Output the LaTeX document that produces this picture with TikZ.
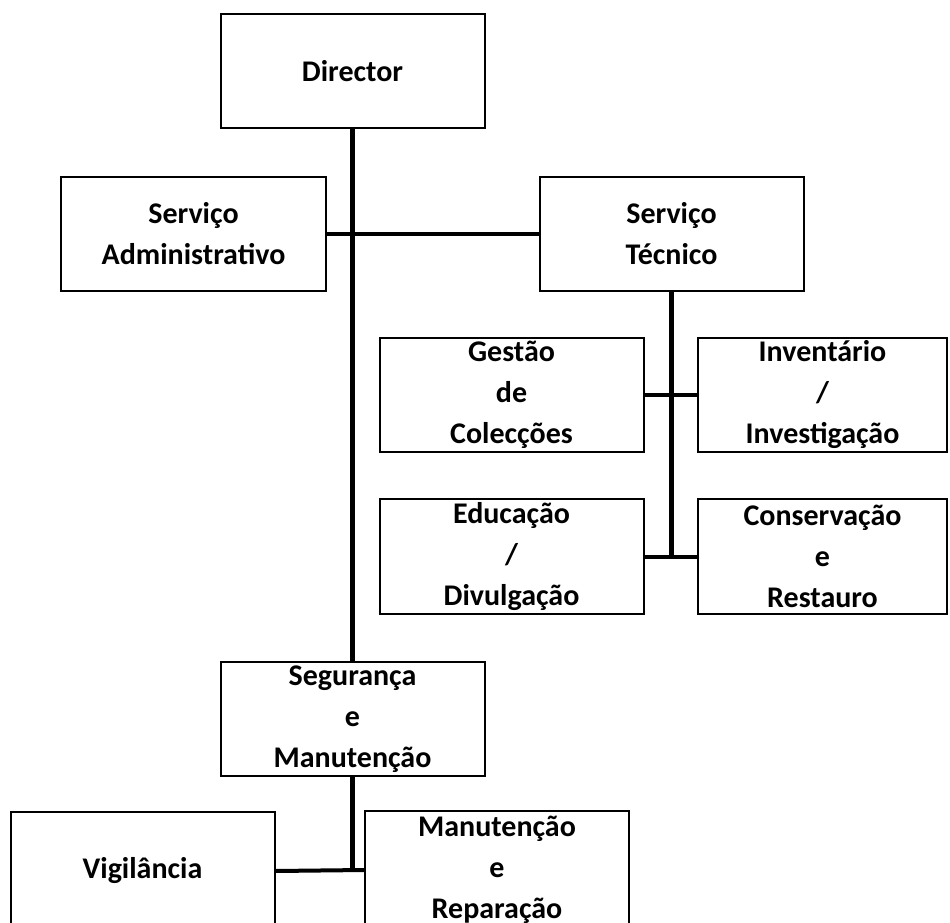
\documentclass[tikz,border=0pt]{standalone}
\usepackage{fontspec}
\setmainfont{Carlito}
\usepackage{tikz}

\begin{document}
\begin{tikzpicture}[x = 1pt, y = -1pt,
  unit/.style = {draw, line width = 2pt, align = center, inner sep = 0pt,
    minimum width = 264pt, minimum height = 114pt,
    font = \bfseries\fontsize{30}{41}\selectfont},
  trunk/.style = {line width = 5.5pt},
  link/.style = {line width = 4pt}]
\useasboundingbox (0,0) rectangle (950,923);
\clip (0,0) rectangle (950,923);
\node [unit] (dir) at (352.5,71) {Director};
\node [unit, minimum width = 265pt] (adm) at (193.5,234) {Serviço\\Administrativo};
\node [unit] (tec) at (671.5,234) {Serviço\\Técnico};
\node [unit] (ges) at (511.5,395) {Gestão\\de\\Colecções};
\node [unit, minimum width = 249pt] (inv) at (822.5,395) {Inventário\\/\\Investigação};
\node [unit, minimum height = 115pt] (edu) at (511.5,556.5) {Educação\\/\\Divulgação};
\node [unit, minimum width = 249pt, minimum height = 115pt] (con) at (822.5,556.5) {Conservação\\e\\Restauro};
\node [unit] (seg) at (352.5,719) {Segurança\\e\\Manutenção};
\node [unit, minimum height = 118pt] (vig) at (142.5,871) {Vigilância};
\node [unit, minimum height = 118pt] (man) at (497,870) {Manutenção\\e\\Reparação};
\draw [trunk] (dir.south) -- (seg.north);
\draw [link] (adm.east) -- (tec.west);
\draw [trunk] (tec.south) -- (tec.south |- edu.east);
\draw [link] (ges.east) -- (inv.west);
\draw [link] (edu.east) -- (con.west);
\draw [trunk] (seg.south) -- (seg.south |- vig.east);
\draw [link] (vig.east) -- (man.west);
\end{tikzpicture}
\end{document}
